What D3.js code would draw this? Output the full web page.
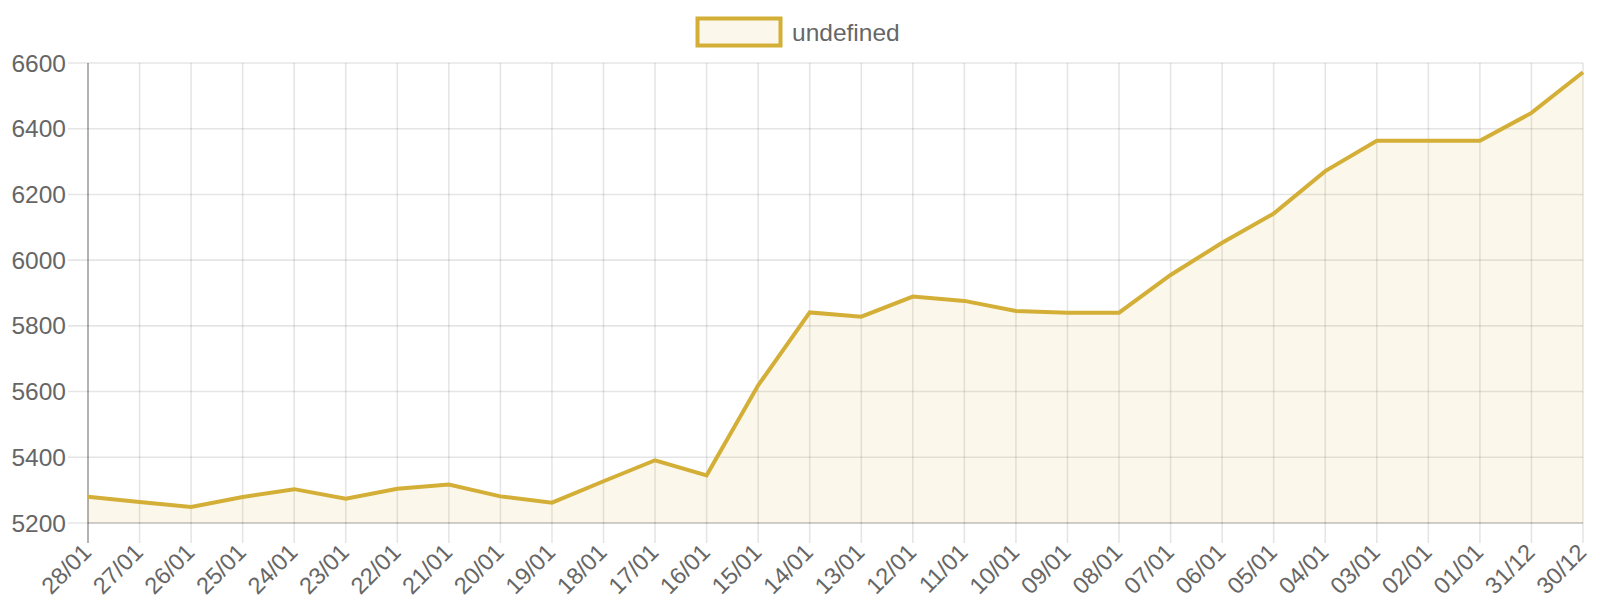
<!DOCTYPE html>
<html>
<head>
<meta charset="utf-8">
<script src="https://d3js.org/d3.v7.min.js"></script>
<style>
    body { margin: 0; background: #fff; }
    svg text { font-family: "Liberation Sans", Arial, Helvetica, sans-serif; fill: #666; }
</style>
</head>
<body>
<svg id="chart"></svg>
<script>
// dates, newest first as in the source
const dates = ["28/01","27/01","26/01","25/01","24/01","23/01","22/01","21/01","20/01","19/01",
    "18/01","17/01","16/01","15/01","14/01","13/01","12/01","11/01","10/01","09/01",
    "08/01","07/01","06/01","05/01","04/01","03/01","02/01","01/01","31/12","30/12"];
const values = [5280, 5264, 5249, 5279, 5303, 5274, 5304, 5317, 5281, 5262,
    5327, 5391, 5345, 5619, 5841, 5828, 5889, 5876, 5845, 5840,
    5840, 5955, 6053, 6142, 6271, 6363, 6363, 6363, 6448, 6572];
const yTicks = [5200, 5400, 5600, 5800, 6000, 6200, 6400, 6600];
const seriesLabel = "undefined";

const gold = "rgb(212,175,55)";
const goldFill = "rgba(212,175,55,0.1)";

const width = 1600, height = 600;
const margin = { left: 88, top: 63, right: 17, bottom: 77 };

const svg = d3.select("#chart")
    .attr("width", width)
    .attr("height", height);

const data = dates.map((d, i) => ({ date: d, value: values[i] }));

let x = d3.scalePoint().domain(dates).range([margin.left, width - margin.right]);
let y = d3.scaleLinear().domain([5200, 6600]).range([height - margin.bottom, margin.top]);

const gridColor = "rgba(0,0,0,0.1)";

// grid lines (with tick marks sticking out past the axes)
svg.append("g")
    .selectAll("line")
    .data(yTicks)
    .enter().append("line")
    .attr("x1", margin.left - 20)
    .attr("x2", width - margin.right)
    .attr("y1", d => y(d))
    .attr("y2", d => y(d))
    .attr("stroke", gridColor)
    .attr("stroke-width", 1.6);

svg.append("g")
    .selectAll("line")
    .data(dates)
    .enter().append("line")
    .attr("x1", d => x(d))
    .attr("x2", d => x(d))
    .attr("y1", margin.top)
    .attr("y2", height - margin.bottom + 20)
    .attr("stroke", gridColor)
    .attr("stroke-width", 1.6);

// area + line
const area = d3.area()
    .x(d => x(d.date))
    .y0(y(5200))
    .y1(d => y(d.value));

const line = d3.line()
    .x(d => x(d.date))
    .y(d => y(d.value));

svg.append("path")
    .datum(data)
    .attr("d", area)
    .attr("fill", goldFill);

// axis lines
svg.append("line")
    .attr("x1", margin.left).attr("x2", margin.left)
    .attr("y1", margin.top).attr("y2", height - margin.bottom + 20)
    .attr("stroke", "rgba(0,0,0,0.3)")
    .attr("stroke-width", 1.6);
svg.append("line")
    .attr("x1", margin.left).attr("x2", width - margin.right)
    .attr("y1", y(5200)).attr("y2", y(5200))
    .attr("stroke", "rgba(0,0,0,0.12)")
    .attr("stroke-width", 2);

svg.append("path")
    .datum(data)
    .attr("d", line)
    .attr("fill", "none")
    .attr("stroke", gold)
    .attr("stroke-width", 4)
    .attr("stroke-linejoin", "miter");

// y labels
svg.append("g")
    .selectAll("text")
    .data(yTicks)
    .enter().append("text")
    .attr("x", margin.left - 22)
    .attr("y", d => y(d))
    .attr("dy", "0.35em")
    .attr("text-anchor", "end")
    .style("font-size", "24.5px")
    .text(d => d);

// x labels, rotated
svg.append("g")
    .selectAll("text")
    .data(dates)
    .enter().append("text")
    .attr("transform", d => "translate(" + (x(d) - 1) + "," + (height - margin.bottom + 25) + ") rotate(-45)")
    .attr("dy", "0.35em")
    .attr("text-anchor", "end")
    .style("font-size", "23.5px")
    .text(d => d);

// legend
const legend = svg.append("g");
legend.append("rect")
    .attr("x", 697.5)
    .attr("y", 18.5)
    .attr("width", 83)
    .attr("height", 27)
    .attr("fill", goldFill)
    .attr("stroke", gold)
    .attr("stroke-width", 4);
legend.append("text")
    .attr("x", 792)
    .attr("y", 32)
    .attr("dy", "0.35em")
    .style("font-size", "24.5px")
    .text(seriesLabel);
</script>
</body>
</html>
